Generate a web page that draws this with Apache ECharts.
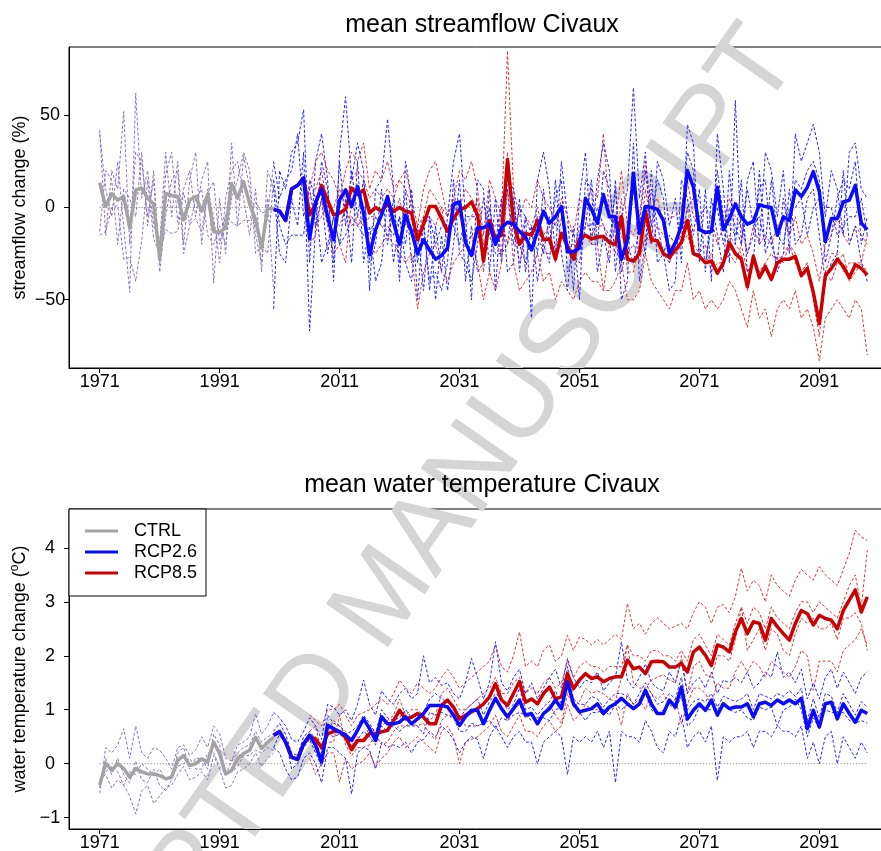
<!DOCTYPE html>
<html>
<head>
<meta charset="utf-8">
<script src="https://cdn.jsdelivr.net/npm/echarts@6/dist/echarts.min.js"></script>
<style>
  html, body { margin: 0; padding: 0; background: #ffffff; }
  #chart { width: 881px; height: 851px; }
</style>
</head>
<body>
<div id="chart"></div>
<script>
// ---- periods and tick labels ----
const ctrlStart = 1971;          // control run 1971-2000
const rcpStart = 2000;           // scenario runs 2000-2099
const rcpRunStart = 2006;        // RCP8.5 individual runs split off in 2006
const xTicks = [1971, 1991, 2011, 2031, 2051, 2071, 2091];
const flowTicks = [-50, 0, 50];
const tempTicks = [-1, 0, 1, 2, 3, 4];

// ---- mean streamflow change (%) ----
const flowCtrlMean = [13.5, 0.5, 7.5, 4, 6, -11, 9.5, 10.5, 5, 2, -27.5, 7.7, 6.5, 6, -6.7, 4, 6, -2, 7, -13, -13.5, -11, 13, 5, 14, 2, -6.7, -22, -0.5, -0.5];
const flowCtrlRuns = [
  [42, -15, 20, 10, 52, -20, 30, 25, -5, 15, -30, 18, 30, -8, 10, 20, -5, 15, 25, -41, 5, -25, 35, -10, 28, 10, -15, -30, 5, -45],
  [40, 10, -5, 25, -10, -46, 62, 5, 20, -10, -20, 30, -5, 25, -20, 15, 30, -20, 10, -5, -30, 5, 20, 25, 5, -15, 10, -35, 20, 10],
  [-13, 20, 15, -20, 10, 5, -5, 30, -10, 20, -35, -5, 15, 20, -25, -10, 5, 10, -15, -20, -10, -20, 5, 15, 30, 20, -25, -20, -25, 15],
  [-15, -13, 0, 1, -28, -27, -40, -18, 15, -17, -25, -12, -14, -13, 8, -9, -6, -13, 8, 14, -20, -4, -8, -10, -7, -7, 3, -3, -2, 23]
];
const flowRcp26Mean = [
  -1, -2, -7, 10, 12, 16, -17, 3, 10, -5,
  -17.5, 4, 9.6, 0.5, 11.4, -3, -25.6, -12, -4, 6,
  -8, -20, -4, -13, -25, -17.5, -23, -28, -26, -22,
  2, 3, -19, -26, -11, -11, -9, -20, -11, -8,
  -9, -13, -16, -23, -13, -2, -8.5, -5, 0.5, -24,
  -24, -22, 5, -1, -8.5, 7, -5, -5, -28, -17.5,
  18.6, -14, 0.5, 0, -1, -7, -25, -19, -10, 20,
  11, -12, -13.5, -13, 11, -12, -6, 2, -5, -9,
  -7.5, 1.5, 0.5, 0, -15, -5, -7, 9.5, 6, 11,
  19.5, 8.7, -18.4, -6, -6, 3, 4, 12, -8.5, -12
];
const flowRcp26Runs = [
  [-55, 20, 10, 30, 35, 53, -30, 25, 40, 15,
   -40, 30, 60, 15, 35, 20, -45, 10, 15, 48,
   10, -40, 25, 5, -50, -5, -45, -10, -35, -5,
   25, 40, -5, -50, 15, 10, -35, 5, -30, 15,
   10, -35, -5, -60, 15, 30, 10, -25, 25, -5,
   -45, 5, 30, -20, 15, 35, 20, -35, -5, 10,
   65, 5, 30, -20, 25, 15, -10, 5, -30, 45,
   35, -30, 10, -40, 40, 10, -30, 58, -20, 15,
   25, -20, 30, 20, -5, 20, -25, 40, 25, 35,
   45, 30, -5, 20, 10, -15, 30, 35, 10, 5],
  [10, -25, -30, 5, -10, 30, -67, -10, 5, -25,
   -5, -20, 5, -30, 25, -30, -10, -40, -30, 5,
   -30, -5, -30, -40, -10, -45, -5, -50, -15, -45,
   -20, 15, -40, -10, -35, -30, 10, -45, 5, -35,
   -30, 5, -35, -10, -40, -20, -30, 15, -25, -45,
   -10, -50, 15, 10, -35, -15, -30, 15, -50, -40,
   35, -40, -20, 20, -30, -25, -45, -40, 15, 5,
   -15, 10, -35, 5, -15, -35, 20, -20, 15, -35,
   -30, 20, -25, -15, -35, -25, 10, -20, -15, 5,
   10, -15, -40, -30, -25, 20, -20, -10, -30, -40],
  [25, 5, 15, 20, 40, -5, 10, -10, 25, 10,
   -30, 25, -10, 20, -5, 15, -30, -20, 10, -20,
   5, -30, 10, -30, -20, -10, -40, -35, -45, -30,
   15, -25, -30, -40, -20, 5, -15, -25, -25, -20,
   5, -20, -30, -10, -25, 10, -20, 5, 15, -35,
   -25, -30, -10, 15, -20, 20, 10, -15, -35, -20,
   10, -10, 20, -10, 15, 5, -30, -20, -5, 30,
   20, -25, -30, -10, 20, -5, -10, -15, -5, -25,
   -15, 10, 15, -20, -30, 5, -15, 15, 10, 20,
   25, 15, -30, -15, 5, 15, 10, 25, -20, -5],
  [15, -10, -20, -15, -15, -15, 15, 5, -30, -20,
   -5, -20, -15, -5, -10, -15, -15, -5, -10, -10,
   -15, -5, -20, 10, -30, -10, -5, -20, -10, -10,
   -10, -20, -5, -5, -5, -25, 0, -20, 5, 10,
   -20, 0, -5, -15, -5, -25, -5, -10, -15, -10,
   -15, -15, -10, -10, 0, -10, -20, 10, -30, -20,
   -30, -10, -25, 10, -10, -25, -15, -20, -20, 0,
   5, -5, 0, -5, 0, -20, 0, -10, -20, 10,
   -10, -5, -20, 15, -15, -20, 0, 0, 5, -15,
   0, 5, 0, 0, -15, -10, -5, -5, 5, -15]
];
const flowRcp85Mean = [
  -1, -2, -7, 10, 12, 16, -4, 2, 12, 4,
  -4, -3, -1, 10.5, 7, 9.5, -3, 0, -2, 2,
  -2, 0, -2, -3, -17.5, -9, 0.5, 0.5, -6, -13,
  -6, -1, 0, 3, -4, -29, -7, -17, -15, 26,
  -8, -20, -14, -15, -7, -17.5, -17, -28, -14, -21,
  -28, -17, -15, -17, -16, -15.7, -19, -20, -5, -28,
  -29, -25, -2, -17.5, -18, -25, -27, -23, -19, -7,
  -25, -26.5, -30, -29, -35.6, -30, -19, -25, -28, -43,
  -26.5, -38, -32, -39, -30, -28, -28, -26.5, -37, -33,
  -46, -63, -37, -33, -28, -32, -38, -31, -33, -36.5
];
const flowRcp85Runs = [
  [10, 25, 30, 20,
   15, 5, 20, 30, 25, 35, 10, 20, 15, 25,
   10, 15, 20, 5, -10, 10, 20, 25, 10, -5,
   5, 20, 15, 25, 10, -15, 15, 5, -5, 85,
   10, -5, 5, 0, 15, 5, 0, -10, 5, -5,
   -15, 5, 0, 10, 5, 40, -5, -10, 20, -10,
   -15, -5, 25, 0, 5, -10, -5, -5, 0, 15,
   -5, -10, -15, -5, -20, -10, 5, -5, -10, -25,
   -10, -20, -15, -20, -10, -5, -15, -5, -20, -15,
   -25, -40, -20, -15, -5, -15, -20, -10, -15, -20],
  [-20, -15, 5, -10,
   -25, -20, -30, 5, -10, -5, -20, -25, -20, -15,
   -20, -25, -30, -25, -55, -35, -25, -20, -35, -40,
   -30, -25, -20, -15, -30, -50, -35, -45, -30, 10,
   -30, -45, -40, -35, -25, -40, -35, -50, -40, -45,
   -50, -40, -35, -40, -40, -45, -45, -40, -30, -50,
   -50, -45, -25, -40, -45, -50, -55, -45, -45, -30,
   -50, -45, -55, -50, -55, -50, -40, -45, -55, -65,
   -45, -60, -55, -70, -55, -50, -55, -45, -60, -55,
   -65, -83, -60, -55, -50, -55, -60, -50, -55, -80],
  [5, 10, 20, 0,
   0, 10, 5, 15, 20, 15, 5, 10, 5, 10,
   5, 15, 10, 0, -15, -5, 10, 5, 0, -20,
   -5, 0, 10, 5, 0, -35, 0, -20, -25, 30,
   0, -20, -5, -10, 0, -15, -10, -30, -5, -20,
   -25, -10, -5, -15, -10, -10, -15, -25, 5, -35,
   -35, -20, 10, -10, -20, -25, -30, -20, -15, 0,
   -20, -25, -30, -25, -35, -30, -15, -20, -25, -45,
   -25, -35, -30, -40, -25, -30, -20, -25, -35, -30,
   -50, -70, -35, -40, -30, -25, -40, -35, -30, -35],
  [-10, -10, -5, 5,
   -5, -10, 0, -10, -5, -10, -5, -5, -10, -15,
   -5, 5, -10, -5, -10, -5, -5, -10, 0, -5,
   5, -5, -10, -5, 5, -20, -10, -10, -5, -20,
   -10, -30, -15, -15, -15, -25, -25, -20, -15, -20,
   -20, -20, -15, -20, -20, -45, -20, -10, -15, -25,
   -20, -30, -15, -20, -10, -15, -20, -25, -20, -15,
   -25, -25, -20, -35, -30, -30, -25, -30, -20, -35,
   -30, -35, -30, -25, -30, -25, -20, -30, -35, -30,
   -45, -60, -35, -25, -25, -35, -30, -30, -30, -15]
];

// ---- mean water temperature change (degC) ----
const tempCtrlMean = [-0.40, 0.01, -0.12, 0.00, -0.09, -0.25, -0.09, -0.15, -0.19, -0.19, -0.22, -0.28, -0.25, 0.06, 0.15, -0.03, 0.00, 0.09, 0.03, 0.40, 0.19, -0.19, -0.12, 0.09, 0.19, 0.25, 0.49, 0.28, 0.40, 0.49];
const tempCtrlRuns = [
  [-0.55, 0.3, 0.2, 0.35, 0.65, 0.1, 0.7, 0.2, 0.1, 0.3, 0.25, 0.1, -0.1, 0.3, 0.35, 0.15, 0.25, 0.5, 0.3, 0.7, 0.55, 0.1, 0.05, 0.35, 0.4, 0.5, 0.93, 0.55, 0.7, 0.95],
  [-0.3, -0.2, -0.45, -0.3, -0.4, -0.6, -0.93, -0.5, -0.4, -0.74, -0.6, -0.45, -0.4, -0.2, -0.05, -0.3, -0.25, -0.15, -0.3, 0.15, -0.1, -0.45, -0.4, -0.15, -0.1, 0.0, 0.2, -0.05, 0.1, 0.2],
  [-0.45, 0.1, -0.2, 0.1, -0.2, -0.35, 0.05, -0.3, -0.35, -0.1, -0.4, -0.5, -0.3, 0.2, 0.3, -0.1, 0.1, 0.1, -0.1, 0.55, 0.35, -0.2, 0.05, 0.2, 0.3, 0.35, 0.6, 0.4, 0.5, 0.55],
  [-0.3, -0.15, -0.05, -0.15, -0.4, -0.15, -0.2, 0.0, -0.1, -0.2, -0.1, -0.3, -0.2, -0.05, 0.0, 0.1, -0.1, -0.1, 0.2, 0.2, -0.05, -0.2, -0.15, -0.05, 0.15, 0.15, 0.25, 0.2, 0.3, 0.25]
];
const tempRcp26Mean = [
  0.53, 0.59, 0.40, 0.12, 0.08, 0.37, 0.53, 0.34, 0.03, 0.71,
  0.65, 0.59, 0.53, 0.43, 0.62, 0.83, 0.65, 0.43, 0.87, 0.74,
  0.74, 0.77, 0.87, 0.74, 0.83, 0.93, 1.08, 1.08, 1.08, 1.05,
  0.90, 0.71, 0.87, 0.99, 0.99, 0.74, 0.99, 1.21, 1.02, 0.87,
  1.02, 1.18, 0.90, 0.93, 0.74, 0.93, 1.02, 1.18, 1.02, 1.52,
  1.11, 0.96, 0.99, 1.02, 1.11, 0.93, 1.05, 1.11, 1.21, 1.11,
  1.02, 1.11, 1.36, 1.11, 0.93, 0.93, 1.18, 1.05, 1.42, 0.83,
  0.99, 1.11, 0.99, 1.18, 0.90, 1.11, 1.02, 1.05, 1.05, 1.11,
  0.87, 1.11, 1.14, 1.08, 1.18, 1.11, 1.18, 1.11, 1.21, 0.65,
  0.99, 0.68, 1.11, 1.14, 0.83, 1.11, 0.93, 0.77, 0.99, 0.93
];
const tempRcp26Runs = [
  [0.95, 0.85, 0.7, 0.45, 0.4, 0.6, 0.85, 0.7, 0.45, 1.1,
   1.05, 0.9, 1.0, 0.8, 1.1, 1.55, 1.1, 0.9, 1.35, 1.2,
   1.1, 1.3, 1.4, 1.2, 1.3, 2.0, 1.5, 1.6, 1.45, 1.5,
   1.3, 1.2, 1.5, 1.95, 1.6, 1.2, 1.5, 2.26, 1.5, 1.35,
   1.6, 1.75, 1.3, 1.5, 1.2, 1.4, 1.6, 1.75, 1.4, 1.95,
   1.6, 1.4, 1.55, 1.5, 1.7, 1.35, 1.5, 1.6, 2.26, 1.55,
   1.4, 1.6, 1.85, 1.5, 1.4, 1.35, 1.7, 1.5, 1.9, 1.3,
   1.5, 1.6, 1.4, 1.7, 1.3, 1.55, 1.5, 1.6, 1.5, 1.7,
   1.4, 1.5, 1.7, 1.6, 2.07, 1.6, 1.7, 1.5, 1.75, 1.2,
   1.5, 1.2, 1.6, 1.75, 1.4, 1.7, 1.5, 1.3, 1.6, 1.7],
  [0.3, 0.2, -0.1, -0.3, -0.25, 0.1, 0.2, 0.0, -0.35, 0.3,
   0.3, 0.2, 0.1, -0.56, 0.2, 0.3, 0.25, -0.1, 0.4, 0.3,
   0.35, 0.3, 0.4, 0.2, 0.4, 0.45, 0.6, 0.5, 0.7, 0.6,
   0.45, 0.2, 0.4, 0.5, 0.45, 0.1, 0.5, 0.7, 0.5, 0.3,
   0.5, 0.6, 0.4, 0.4, 0.0, 0.4, 0.5, 0.6, 0.5, -0.2,
   0.5, 0.4, 0.5, 0.4, 0.6, 0.3, 0.6, -0.35, 0.6, 0.5,
   0.5, 0.4, 0.8, 0.6, 0.3, 0.2, 0.6, 0.5, 0.9, 0.3,
   0.5, 0.6, 0.4, 0.7, -0.31, 0.5, 0.4, 0.5, 0.5, 0.6,
   0.3, 0.6, 0.6, 0.5, 0.7, 0.6, 0.6, 0.5, 0.7, 0.1,
   0.4, 0.0, 0.5, 0.6, 0.0, 0.5, 0.3, 0.1, 0.4, 0.2],
  [0.6, 0.75, 0.55, 0.2, 0.15, 0.5, 0.6, 0.45, 0.1, 0.9,
   0.75, 0.7, 0.55, 0.6, 0.7, 0.9, 0.75, 0.55, 1.0, 0.85,
   0.8, 0.85, 1.0, 0.85, 0.9, 0.95, 1.2, 1.3, 1.2, 1.15,
   1.0, 0.85, 1.0, 1.1, 1.2, 0.9, 1.15, 1.3, 1.2, 1.0,
   1.1, 1.4, 1.0, 1.05, 0.9, 1.05, 1.15, 1.35, 1.1, 1.8,
   1.2, 1.1, 1.1, 1.25, 1.2, 1.05, 1.2, 1.3, 1.3, 1.25,
   1.1, 1.3, 1.5, 1.3, 1.1, 1.15, 1.3, 1.2, 1.6, 1.0,
   1.15, 1.2, 1.15, 1.3, 1.05, 1.25, 1.2, 1.15, 1.2, 1.3,
   1.0, 1.3, 1.25, 1.2, 1.3, 1.25, 1.35, 1.25, 1.4, 0.8,
   1.2, 0.85, 1.3, 1.25, 0.95, 1.3, 1.1, 0.9, 1.15, 1.05],
  [0.3, 0.55, 0.45, -0.1, 0.0, 0.3, 0.45, 0.2, -0.05, 0.55,
   0.5, 0.55, 0.45, 0.35, 0.45, 0.6, 0.5, 0.35, 0.7, 0.6,
   0.7, 0.6, 0.7, 0.7, 0.7, 0.55, 0.95, 0.9, 0.95, 0.9,
   0.85, 0.6, 0.6, 0.75, 0.7, 0.75, 0.8, 0.65, 0.85, 0.8,
   0.9, 0.95, 0.9, 0.8, 0.85, 0.85, 0.8, 1.0, 1.05, 1.45,
   1.1, 0.95, 0.8, 0.95, 0.95, 1.0, 0.9, 1.1, 1.0, 1.1,
   1.05, 1.1, 1.3, 1.0, 0.9, 1.0, 1.1, 1.0, 1.25, 0.7,
   0.8, 1.05, 1.0, 1.0, 1.0, 1.15, 1.0, 0.95, 1.0, 0.85,
   0.8, 1.05, 1.0, 1.05, 0.7, 1.0, 1.05, 1.2, 1.0, 0.5,
   0.85, 0.65, 1.0, 0.95, 0.95, 0.95, 0.8, 0.75, 0.8, 0.75]
];
const tempRcp85Mean = [
  0.53, 0.59, 0.40, 0.12, 0.08, 0.37, 0.50, 0.46, 0.30, 0.55,
  0.60, 0.59, 0.49, 0.26, 0.43, 0.43, 0.56, 0.56, 0.59, 0.62,
  0.80, 0.99, 0.83, 0.86, 0.93, 0.86, 0.74, 0.74, 1.08, 1.18,
  1.05, 0.83, 0.90, 0.96, 1.02, 1.11, 1.24, 1.48, 1.18, 1.08,
  1.30, 1.52, 1.14, 1.20, 1.11, 1.30, 1.42, 1.20, 1.24, 1.67,
  1.39, 1.55, 1.67, 1.58, 1.61, 1.52, 1.58, 1.61, 1.61, 1.92,
  1.76, 1.79, 1.67, 1.89, 1.90, 1.89, 1.79, 1.79, 1.86, 1.70,
  2.07, 2.16, 2.01, 1.82, 2.20, 2.16, 2.07, 2.44, 2.69, 2.41,
  2.63, 2.60, 2.29, 2.69, 2.54, 2.41, 2.29, 2.60, 2.84, 2.78,
  2.57, 2.75, 2.69, 2.66, 2.50, 2.84, 3.03, 3.22, 2.81, 3.09
];
const tempRcp85Runs = [
  [0.9, 0.8, 0.7, 1.0,
   1.0, 1.1, 0.9, 0.7, 0.9, 0.95, 1.0, 1.1, 1.2, 1.1,
   1.3, 1.55, 1.4, 1.3, 1.5, 1.4, 1.3, 1.4, 1.6, 1.75,
   1.6, 1.4, 1.5, 1.6, 1.7, 1.8, 1.9, 2.2, 1.8, 1.7,
   2.0, 2.44, 1.8, 1.9, 1.8, 2.1, 2.2, 1.9, 2.0, 2.38,
   2.1, 2.35, 2.3, 2.2, 2.3, 2.2, 2.3, 2.4, 2.3, 2.97,
   2.5, 2.6, 2.4, 2.6, 2.7, 2.6, 2.5, 2.55, 2.6, 2.5,
   2.8, 3.0, 2.9, 2.6, 2.9, 2.95, 2.8, 3.1, 3.62, 3.2,
   3.4, 3.3, 3.0, 3.5, 3.3, 3.2, 3.1, 3.4, 3.6, 3.5,
   3.4, 3.65, 3.5, 3.4, 3.3, 3.6, 3.9, 4.33, 4.2, 4.14],
  [0.1, -0.2, 0.0, 0.2,
   0.2, -0.34, 0.1, -0.1, 0.0, 0.05, 0.2, -0.06, 0.1, 0.2,
   0.4, 0.5, 0.3, 0.4, 0.5, 0.4, 0.3, 0.2, 0.6, 0.7,
   0.5, 0.0, 0.4, 0.45, 0.5, 0.6, 0.7, 0.9, 0.6, 0.5,
   0.7, 0.9, 0.6, 0.6, 0.5, 0.7, 0.8, 0.6, 0.7, 1.1,
   0.8, 0.9, 1.1, 1.0, 1.0, 0.9, 1.0, 1.1, 0.71, 1.3,
   1.1, 1.2, 1.0, 1.3, 1.2, 1.3, 1.1, 1.2, 0.74, 1.1,
   1.4, 1.4, 1.3, 1.1, 1.5, 1.4, 1.4, 1.7, 1.9, 1.7,
   1.9, 1.8, 1.6, 1.9, 1.8, 1.7, 1.6, 1.8, 2.1, 2.0,
   1.36, 1.9, 1.9, 1.9, 1.7, 2.1, 2.2, 2.3, 2.5, 2.2],
  [0.6, 0.7, 0.2, 0.6,
   0.8, 0.7, 0.6, 0.3, 0.5, 0.4, 0.7, 0.6, 0.7, 0.8,
   0.9, 1.2, 0.9, 1.0, 1.0, 0.9, 0.8, 0.9, 1.3, 1.4,
   1.2, 1.0, 1.0, 1.1, 1.2, 1.3, 1.4, 1.6, 1.3, 1.3,
   1.5, 1.6, 1.3, 1.4, 1.3, 1.5, 1.6, 1.4, 1.5, 1.9,
   1.6, 1.8, 1.9, 1.8, 1.8, 1.7, 1.8, 1.8, 1.8, 2.2,
   2.0, 2.0, 1.9, 2.1, 2.1, 2.0, 2.0, 1.9, 2.1, 1.9,
   2.3, 2.4, 2.2, 2.0, 2.4, 2.3, 2.2, 2.6, 2.9, 2.6,
   2.9, 2.8, 2.5, 2.9, 2.7, 2.6, 2.5, 2.8, 3.0, 3.0,
   2.8, 3.0, 2.9, 2.8, 2.7, 3.0, 3.3, 3.5, 2.9, 3.96],
  [0.4, 0.5, 0.3, 0.4,
   0.4, 0.9, 0.35, 0.15, 0.3, 0.3, 0.35, 0.55, 0.35, 0.4,
   0.6, 0.7, 0.7, 0.75, 0.7, 0.75, 0.55, 0.45, 0.8, 0.9,
   0.9, 0.9, 0.7, 0.7, 0.7, 0.75, 0.95, 1.2, 1.0, 0.8,
   1.0, 1.1, 0.85, 0.9, 0.85, 0.9, 1.1, 0.9, 0.75, 1.3,
   1.05, 1.15, 1.4, 1.3, 1.35, 1.3, 1.2, 1.15, 1.6, 2.2,
   1.5, 1.4, 1.4, 1.55, 1.6, 1.65, 1.55, 1.5, 2.0, 1.3,
   1.8, 1.9, 1.65, 1.6, 2.0, 2.0, 1.9, 2.3, 2.9, 2.1,
   2.3, 2.5, 2.1, 2.5, 2.4, 2.1, 2.0, 2.4, 2.7, 2.6,
   2.7, 2.5, 2.5, 2.6, 2.3, 2.7, 2.7, 2.8, 2.6, 2.1]
];

// ---- styling ----
const FONT = '"Liberation Sans", Arial, Helvetica, sans-serif';
const COL = {
  ctrlMean: '#a3a3a3', ctrlRun: '#8b72be',
  rcp26Mean: '#0a0aff', rcp26Run: '#2424ff',
  rcp85Mean: '#cc0000', rcp85Run: '#e23434'
};

function pairs(start, values) {
  return values.map((v, i) => [start + i, v]);
}
function runSeries(label, gi, start, runs, color) {
  return runs.map((r, k) => ({
    name: label + ' run ' + (k + 1), type: 'line', xAxisIndex: gi, yAxisIndex: gi,
    data: pairs(start, r), symbol: 'none', silent: true, z: 2,
    lineStyle: { color: color, width: 1, type: [3, 2] }, itemStyle: { color: color }
  }));
}
function meanSeries(label, gi, start, values, color) {
  return {
    name: label, type: 'line', xAxisIndex: gi, yAxisIndex: gi,
    data: pairs(start, values), symbol: 'none', silent: true, z: 4,
    lineStyle: { color: color, width: 3.5, join: 'round' }, itemStyle: { color: color }
  };
}
function zeroLine(gi) {
  return {
    name: 'zero ' + gi, type: 'line', xAxisIndex: gi, yAxisIndex: gi,
    data: [[1971, 0], [2099, 0]], symbol: 'none', silent: true, z: 1,
    lineStyle: { color: '#7a7a7a', width: 1, type: [1, 2] }
  };
}
function minusFmt(v) {
  return v < 0 ? '\u2212' + Math.abs(v) : String(v);
}
function xAxisFor(gi) {
  return {
    type: 'value', gridIndex: gi, min: 1965.88, max: 2104.12,
    axisLine: { show: true, onZero: false, lineStyle: { color: '#000', width: 1 } },
    axisTick: { show: true, length: 5, customValues: xTicks, lineStyle: { color: '#000' } },
    axisLabel: { customValues: xTicks, fontSize: 18, color: '#000', margin: 5, fontFamily: FONT,
                 formatter: (v) => String(Math.round(v)) },
    splitLine: { show: false }
  };
}
function yAxisFor(gi, min, max, ticks, name, gap) {
  return {
    type: 'value', gridIndex: gi, min: min, max: max,
    axisLine: { show: true, onZero: false, lineStyle: { color: '#000', width: 1 } },
    axisTick: { show: true, length: 5, customValues: ticks, lineStyle: { color: '#000' } },
    axisLabel: { customValues: ticks, fontSize: 18, color: '#000', margin: 19, align: 'center',
                 fontFamily: FONT, formatter: minusFmt },
    splitLine: { show: false },
    name: name, nameLocation: 'middle', nameGap: gap, nameMoveOverlap: false,
    nameTextStyle: {
      fontSize: 18, color: '#000', fontFamily: FONT,
      rich: {
        b: { fontSize: 18, color: '#000', fontFamily: FONT, lineHeight: 22 },
        sup: { fontSize: 12, color: '#000', fontFamily: FONT, lineHeight: 12, verticalAlign: 'top' }
      }
    }
  };
}

const series = [
  zeroLine(0), zeroLine(1),
  // streamflow panel
  ...runSeries('CTRL', 0, ctrlStart, flowCtrlRuns, COL.ctrlRun),
  ...runSeries('RCP8.5', 0, rcpRunStart, flowRcp85Runs, COL.rcp85Run),
  ...runSeries('RCP2.6', 0, rcpStart, flowRcp26Runs, COL.rcp26Run),
  meanSeries('CTRL', 0, ctrlStart, flowCtrlMean, COL.ctrlMean),
  meanSeries('RCP8.5', 0, rcpStart, flowRcp85Mean, COL.rcp85Mean),
  meanSeries('RCP2.6', 0, rcpStart, flowRcp26Mean, COL.rcp26Mean),
  // water temperature panel
  ...runSeries('CTRL', 1, ctrlStart, tempCtrlRuns, COL.ctrlRun),
  ...runSeries('RCP8.5', 1, rcpRunStart, tempRcp85Runs, COL.rcp85Run),
  ...runSeries('RCP2.6', 1, rcpStart, tempRcp26Runs, COL.rcp26Run),
  meanSeries('CTRL', 1, ctrlStart, tempCtrlMean, COL.ctrlMean),
  meanSeries('RCP8.5', 1, rcpStart, tempRcp85Mean, COL.rcp85Mean),
  meanSeries('RCP2.6', 1, rcpStart, tempRcp26Mean, COL.rcp26Mean)
];

const chart = echarts.init(document.getElementById('chart'), null, { renderer: 'canvas' });
chart.setOption({
  animation: false,
  backgroundColor: '#ffffff',
  textStyle: { fontFamily: FONT },
  grid: [
    { left: 69, top: 47, width: 829, height: 321, show: true, borderColor: '#000', borderWidth: 1,
      backgroundColor: 'transparent', outerBoundsMode: 'none' },
    { left: 69, top: 509, width: 829, height: 320, show: true, borderColor: '#000', borderWidth: 1,
      backgroundColor: 'transparent', outerBoundsMode: 'none' }
  ],
  xAxis: [xAxisFor(0), xAxisFor(1)],
  yAxis: [
    yAxisFor(0, -87, 87, flowTicks, 'streamflow change (%)', 40),
    yAxisFor(1, -1.21, 4.72, tempTicks, '{b|water temperature change (}{sup|o}{b|C)}', 38)
  ],
  legend: {
    orient: 'vertical', left: 69, top: 509,
    data: [
      { name: 'CTRL', icon: 'rect' },
      { name: 'RCP2.6', icon: 'rect' },
      { name: 'RCP8.5', icon: 'rect' }
    ],
    itemWidth: 33, itemHeight: 3, itemGap: 3,
    padding: [13, 9, 14, 16],
    borderColor: '#000', borderWidth: 1, borderRadius: 0, backgroundColor: '#ffffff',
    selectedMode: false, z: 10,
    textStyle: { fontSize: 18, color: '#000', fontFamily: FONT, lineHeight: 18, padding: [0, 0, 0, 11] }
  },
  graphic: [
    {
      type: 'text', x: 386, y: 597, rotation: 55 * Math.PI / 180, z: 0, silent: true,
      style: { text: 'ACCEPTED MANUSCRIPT', fontSize: 110, fontFamily: FONT,
               fill: '#d5d5d5', align: 'center', verticalAlign: 'middle' }
    },
    {
      type: 'text', x: 482, y: 25, z: 5, silent: true,
      style: { text: 'mean streamflow Civaux', fontSize: 25, fontFamily: FONT,
               fill: '#000', align: 'center', verticalAlign: 'middle' }
    },
    {
      type: 'text', x: 482, y: 485, z: 5, silent: true,
      style: { text: 'mean water temperature Civaux', fontSize: 25, fontFamily: FONT,
               fill: '#000', align: 'center', verticalAlign: 'middle' }
    }
  ],
  series: series
});
</script>
</body>
</html>
